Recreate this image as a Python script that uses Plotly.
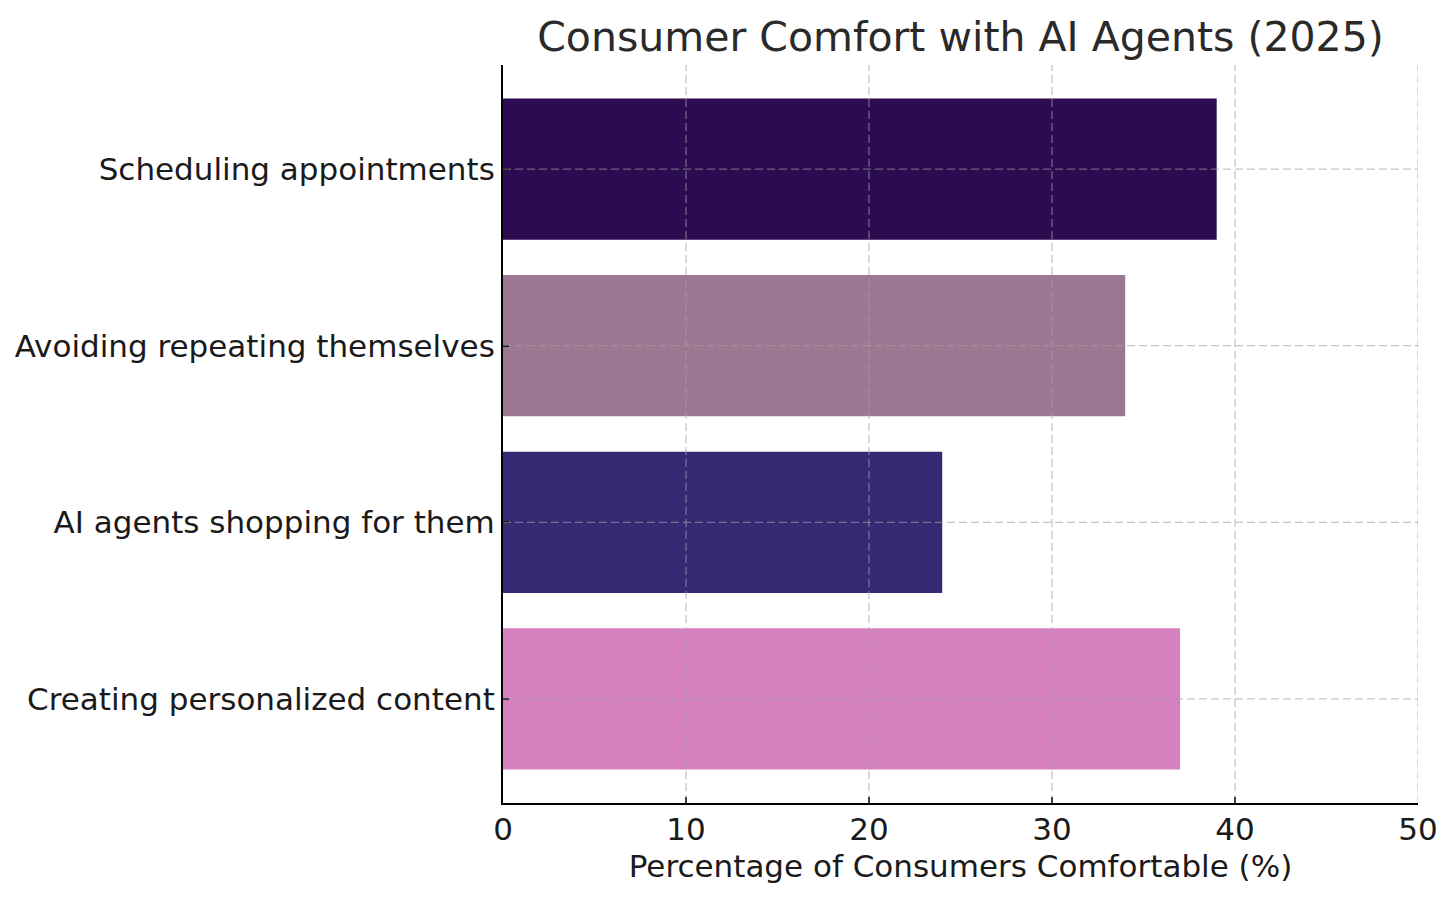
import plotly.graph_objects as go

categories = ["Scheduling appointments", "Avoiding repeating themselves",
              "AI agents shopping for them", "Creating personalized content"]
values = [39, 34, 24, 37]
colors = ["#2b0c51", "#9d7893", "#362a75", "#d580bf"]
x_ticks = [0, 10, 20, 30, 40, 50]

FONT = "DejaVu Sans"
L, R, T, B = 495, 46, 57, 108

fig = go.Figure(go.Bar(
    x=values, y=categories, orientation="h", width=0.8,
    marker=dict(color=colors, line=dict(width=0)),
))

# grid lines drawn above bars (like the reference)
gl = dict(color="rgba(160,160,160,0.6)", width=1.3, dash="8px,4px")
shapes = []
for v in x_ticks[1:]:
    shapes.append(dict(type="line", xref="x", yref="paper", x0=v, x1=v, y0=0, y1=1,
                       line=gl, layer="above"))
for c in categories:
    shapes.append(dict(type="line", xref="paper", yref="y", x0=0, x1=1, y0=c, y1=c,
                       line=gl, layer="above"))

fig.update_layout(
    width=1456, height=903,
    margin=dict(l=L, r=R, t=T, b=B),
    paper_bgcolor="white", plot_bgcolor="white",
    font=dict(family=FONT, color="#1a1a1a", size=31),
    title=dict(text="Consumer Comfort with AI Agents (2025)",
               x=(L + (1456 - R)) / 2 / 1456,
               xanchor="center", y=1 - 29 / 903, yanchor="middle", yref="container",
               font=dict(size=41, color="#2a2a2a", family=FONT)),
    showlegend=False,
    shapes=shapes,
)
fig.update_xaxes(
    range=[0, 50], tickvals=x_ticks, ticktext=[str(v) for v in x_ticks],
    showline=True, linecolor="black", linewidth=2, mirror=False,
    ticks="inside", ticklen=6, tickwidth=1.5, tickcolor="black",
    zeroline=False, showgrid=False, ticklabelstandoff=-2, automargin=False,
    title=dict(text="Percentage of Consumers Comfortable (%)", standoff=9,
               font=dict(size=31)),
    tickfont=dict(size=31),
)
fig.update_yaxes(
    categoryorder="array", categoryarray=categories,
    range=[3.59, -0.59], automargin=False,
    showline=True, linecolor="black", linewidth=2,
    ticks="inside", ticklen=6, tickwidth=1.5, tickcolor="black",
    zeroline=False, showgrid=False, tickfont=dict(size=31), ticklabelstandoff=0,
)

fig.write_html("out.html")
